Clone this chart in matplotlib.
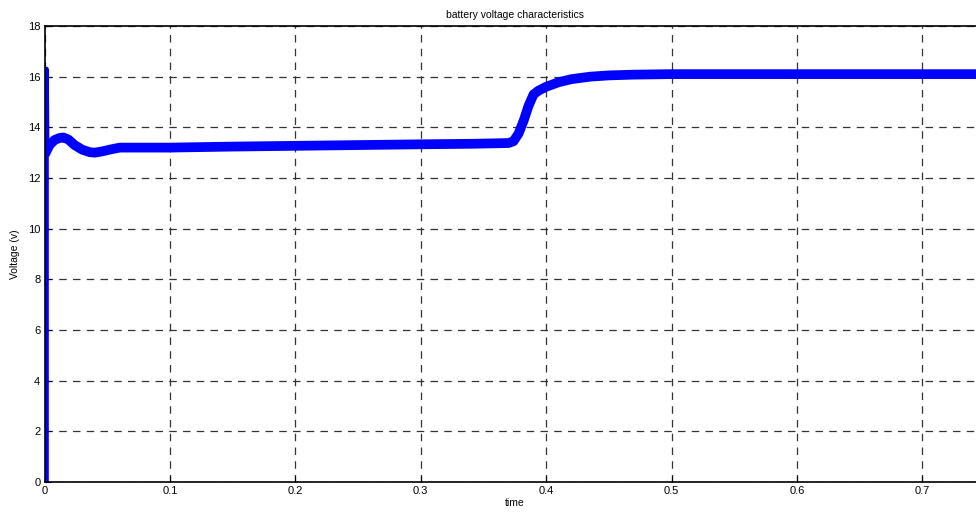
import matplotlib.pyplot as plt

# Data section
spike_t = [0.0015, 0.0015, 0.002]
spike_v = [0.0, 16.3, 13.1]

time = [0.002, 0.004, 0.008, 0.012, 0.015, 0.019, 0.024, 0.030, 0.036, 0.040,
        0.046, 0.052, 0.060, 0.070, 0.100, 0.150, 0.200, 0.250, 0.300, 0.340,
        0.370, 0.374, 0.378, 0.382, 0.386, 0.390, 0.394, 0.400, 0.410, 0.420,
        0.435, 0.450, 0.470, 0.500, 0.550, 0.600, 0.650, 0.700, 0.750]
voltage = [13.1, 13.3, 13.5, 13.58, 13.6, 13.52, 13.3, 13.12, 13.02, 13.0,
           13.05, 13.12, 13.2, 13.2, 13.2, 13.24, 13.27, 13.3, 13.33, 13.35,
           13.38, 13.45, 13.75, 14.25, 14.85, 15.3, 15.45, 15.6, 15.78, 15.9,
           16.0, 16.05, 16.08, 16.1, 16.1, 16.1, 16.1, 16.1, 16.1]

xticks = [0, 0.1, 0.2, 0.3, 0.4, 0.5, 0.6, 0.7]
xtick_labels = ['0', '0.1', '0.2', '0.3', '0.4', '0.5', '0.6', '0.7']
yticks = [0, 2, 4, 6, 8, 10, 12, 14, 16, 18]

def main():
    plt.rcParams['font.family'] = ['Liberation Sans', 'DejaVu Sans']
    fig = plt.figure(figsize=(9.76, 5.16), dpi=100)
    # axes run a little past the right edge, as in the cropped original
    ax = fig.add_axes([44.5 / 976, 34 / 516, 940.5 / 976, 456 / 516])

    ax.plot(spike_t, spike_v, color='#0000ff', linewidth=3.5, solid_capstyle='butt')
    ax.plot(time, voltage, color='#0000ff', linewidth=7, solid_joinstyle='round')

    ax.set_xlim(0, 0.75)
    ax.set_ylim(0, 18)
    ax.set_xticks(xticks)
    ax.set_xticklabels(xtick_labels)
    ax.set_yticks(yticks)
    ax.tick_params(direction='in', length=4, labelsize=8, pad=3)
    ax.grid(True, color='#333333', linestyle=(0, (6, 5)), linewidth=0.9)
    for side in ['left', 'bottom', 'top']:
        ax.spines[side].set_linewidth(1.2)

    ax.set_title('battery voltage characteristics', fontsize=7.5, pad=6)
    ax.set_xlabel('time', fontsize=7.5, labelpad=1)
    ax.set_ylabel('Voltage (v)', fontsize=7.5, labelpad=6)

    fig.savefig('out.png', dpi=100)
    plt.close()

if __name__ == "__main__":
    main()
